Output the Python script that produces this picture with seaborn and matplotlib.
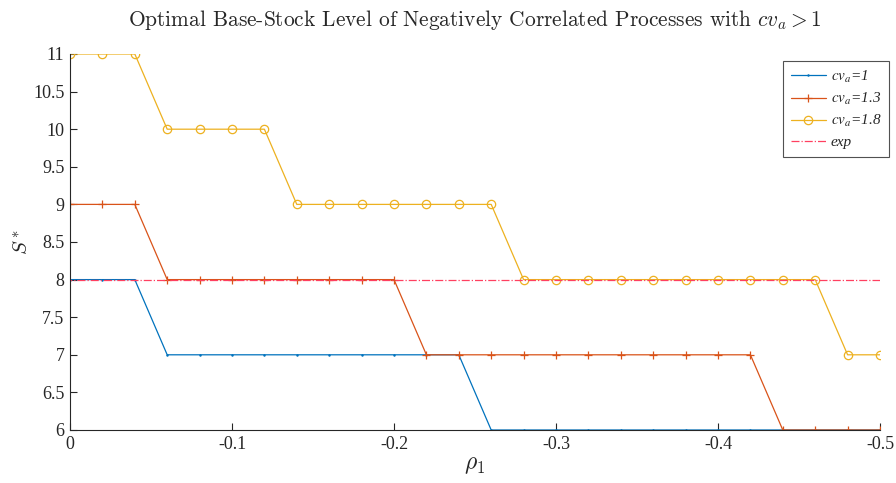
import numpy as np
import pandas as pd
import matplotlib
matplotlib.use("Agg")
import matplotlib.pyplot as plt
import seaborn as sns
from matplotlib.ticker import FuncFormatter, MultipleLocator
from matplotlib.font_manager import FontProperties

# ---- data ----
rho = [0, -0.02, -0.04, -0.06, -0.08, -0.10, -0.12, -0.14, -0.16, -0.18, -0.20,
       -0.22, -0.24, -0.26, -0.28, -0.30, -0.32, -0.34, -0.36, -0.38, -0.40,
       -0.42, -0.44, -0.46, -0.48, -0.50]
s_cv1 = [8, 8, 8, 7, 7, 7, 7, 7, 7, 7, 7, 7, 7, 6, 6, 6, 6, 6, 6, 6, 6, 6, 6, 6, 6, 6]
s_cv13 = [9, 9, 9, 8, 8, 8, 8, 8, 8, 8, 8, 7, 7, 7, 7, 7, 7, 7, 7, 7, 7, 7, 6, 6, 6, 6]
s_cv18 = [11, 11, 11, 10, 10, 10, 10, 9, 9, 9, 9, 9, 9, 9, 8, 8, 8, 8, 8, 8, 8, 8, 8, 8, 7, 7]
s_exp = [8] * len(rho)
labels = [r"$cv_a$=1", r"$cv_a$=1.3", r"$cv_a$=1.8", "exp"]
xticks = [0, -0.1, -0.2, -0.3, -0.4, -0.5]

sns.set_theme(style="white")
plt.rcParams["font.family"] = ["Liberation Serif", "DejaVu Serif"]
plt.rcParams["axes.unicode_minus"] = False
plt.rcParams["mathtext.fontset"] = "stix"

fig = plt.figure(figsize=(8.96, 4.83), dpi=100)
ax = fig.add_axes([70 / 896, 1 - 430 / 483, 810 / 896, 376 / 483])

df = pd.DataFrame({"rho": rho, "cv1": s_cv1, "cv13": s_cv13, "cv18": s_cv18, "exp": s_exp})

c1, c2, c3, c4 = "#0072BD", "#D95319", "#EDB120", "#FF4060"
sns.lineplot(data=df, x="rho", y="cv1", ax=ax, color=c1, lw=0.9,
             marker=".", markersize=2, markeredgecolor=c1, markerfacecolor=c1,
             label=labels[0])
sns.lineplot(data=df, x="rho", y="cv13", ax=ax, color=c2, lw=0.9,
             marker="+", markersize=6, markeredgewidth=0.9, markeredgecolor=c2,
             label=labels[1])
sns.lineplot(data=df, x="rho", y="cv18", ax=ax, color=c3, lw=0.9,
             marker="o", markersize=6, markerfacecolor="none",
             markeredgecolor=c3, markeredgewidth=0.9, label=labels[2])
sns.lineplot(data=df, x="rho", y="exp", ax=ax, color=c4, lw=0.9,
             linestyle="-.", label=labels[3])

ax.set_xlim(0, -0.5)
ax.set_ylim(6, 11)
ax.set_xticks(xticks)
ax.yaxis.set_major_locator(MultipleLocator(0.5))
ax.xaxis.set_major_formatter(FuncFormatter(lambda v, p: "%g" % v))
ax.yaxis.set_major_formatter(FuncFormatter(lambda v, p: "%g" % v))
ax.tick_params(direction="in", length=5, width=0.8, labelsize=13, colors="#262626",
               left=True, bottom=True, pad=4)
for sp in ["top", "right"]:
    ax.spines[sp].set_visible(False)
for sp in ["left", "bottom"]:
    ax.spines[sp].set_color("#262626")
    ax.spines[sp].set_linewidth(0.8)

ax.set_xlabel(r"$\rho_1$", fontsize=17, labelpad=2, math_fontfamily="cm")
ax.set_ylabel(r"$S^*$", fontsize=15, labelpad=0, math_fontfamily="cm")
ax.set_title(r"Optimal Base-Stock Level of Negatively Correlated Processes with $cv_a > 1$",
             fontsize=15.4, family="cmr10", math_fontfamily="cm", pad=20)

prop = FontProperties(family="Liberation Serif", style="italic", size=11, math_fontfamily="stix")
leg = ax.legend(loc="upper right", bbox_to_anchor=(889 / 896, 1 - 61 / 483),
                bbox_transform=fig.transFigure, prop=prop, frameon=True, fancybox=False,
                edgecolor="#262626", handlelength=2.3, borderpad=0.5, labelspacing=0.4,
                handletextpad=0.3, borderaxespad=0)
leg.get_frame().set_linewidth(0.8)

fig.savefig("out.png", dpi=100)
